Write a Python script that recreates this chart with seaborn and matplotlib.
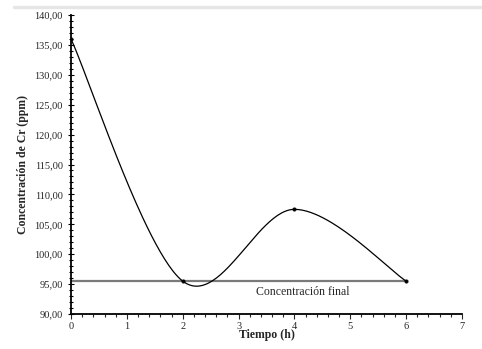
import numpy as np
import pandas as pd
import seaborn as sns
import matplotlib.pyplot as plt
from matplotlib.lines import Line2D
from matplotlib.ticker import MultipleLocator, FuncFormatter

# datos
tiempo = [0, 2, 4, 6]
concentracion = [136.0, 95.5, 107.5, 95.5]
conc_final = 95.5


def suavizar(x, y, n=60):
    # curva suavizada tipo Excel (Bezier con tangentes de vecinos)
    x = np.asarray(x, float)
    y = np.asarray(y, float)
    xs, ys = [], []
    for i in range(len(x) - 1):
        a = max(i - 1, 0)
        b = min(i + 2, len(x) - 1)
        p0 = np.array([x[i], y[i]])
        p3 = np.array([x[i + 1], y[i + 1]])
        p1 = p0 + (p3 - np.array([x[a], y[a]])) / 6
        p2 = p3 - (np.array([x[b], y[b]]) - p0) / 6
        t = np.linspace(0, 1, n)[:, None]
        pts = ((1 - t) ** 3) * p0 + 3 * t * (1 - t) ** 2 * p1 + 3 * t ** 2 * (1 - t) * p2 + t ** 3 * p3
        xs.extend(pts[:, 0])
        ys.extend(pts[:, 1])
    return pd.DataFrame({"t": xs, "c": ys})


sns.set_style("ticks")
plt.rcParams['font.family'] = ['Liberation Serif', 'DejaVu Serif']

fig = plt.figure(figsize=(4.82, 3.49), dpi=100)
ax = fig.add_axes([0.1473, 0.1003, 0.8112, 0.8567])

curva = suavizar(tiempo, concentracion)
ax.hlines(conc_final, 0, 6, color="#7a7a7a", linewidth=1.6, zorder=1)
sns.lineplot(data=curva, x="t", y="c", sort=False, color="black", linewidth=0.9, ax=ax, zorder=2)
sns.scatterplot(x=tiempo, y=concentracion, color="black", s=7, edgecolor="black", ax=ax, zorder=3)
ax.text(4.15, 93.6, "Concentración final", ha="center", va="center", fontsize=8.5)

ax.set_xlim(0, 7)
ax.set_ylim(90, 140)
ax.xaxis.set_major_locator(MultipleLocator(1))
ax.xaxis.set_minor_locator(MultipleLocator(0.2))
ax.yaxis.set_major_locator(MultipleLocator(5))
ax.yaxis.set_minor_locator(MultipleLocator(1))
ax.yaxis.set_major_formatter(FuncFormatter(lambda v, p: f"{v:.2f}".replace(".", ",")))
ax.tick_params(axis="y", which="both", direction="inout", labelsize=7.5, width=0.8, color="black")
ax.tick_params(axis="y", which="major", length=5)
ax.tick_params(axis="y", which="minor", length=3.5)
ax.tick_params(axis="x", which="both", direction="out", labelsize=7.5, width=0.8, pad=2)
ax.tick_params(axis="x", which="major", length=3.5)
ax.tick_params(axis="x", which="minor", length=2.5)

ax.set_xlabel("Tiempo (h)", fontsize=8.5, fontweight="bold", labelpad=-1)
ax.set_ylabel("Concentración de Cr (ppm)", fontsize=8.5, fontweight="bold", labelpad=4)
for s in ["left", "bottom"]:
    ax.spines[s].set_linewidth(1.3)
    ax.spines[s].set_color("black")
sns.despine(ax=ax)

fig.add_artist(Line2D([0.03, 1.0], [0.98, 0.98], color="#e6e6e6", linewidth=2.5,
                      transform=fig.transFigure))

fig.savefig("out.png", dpi=100)
